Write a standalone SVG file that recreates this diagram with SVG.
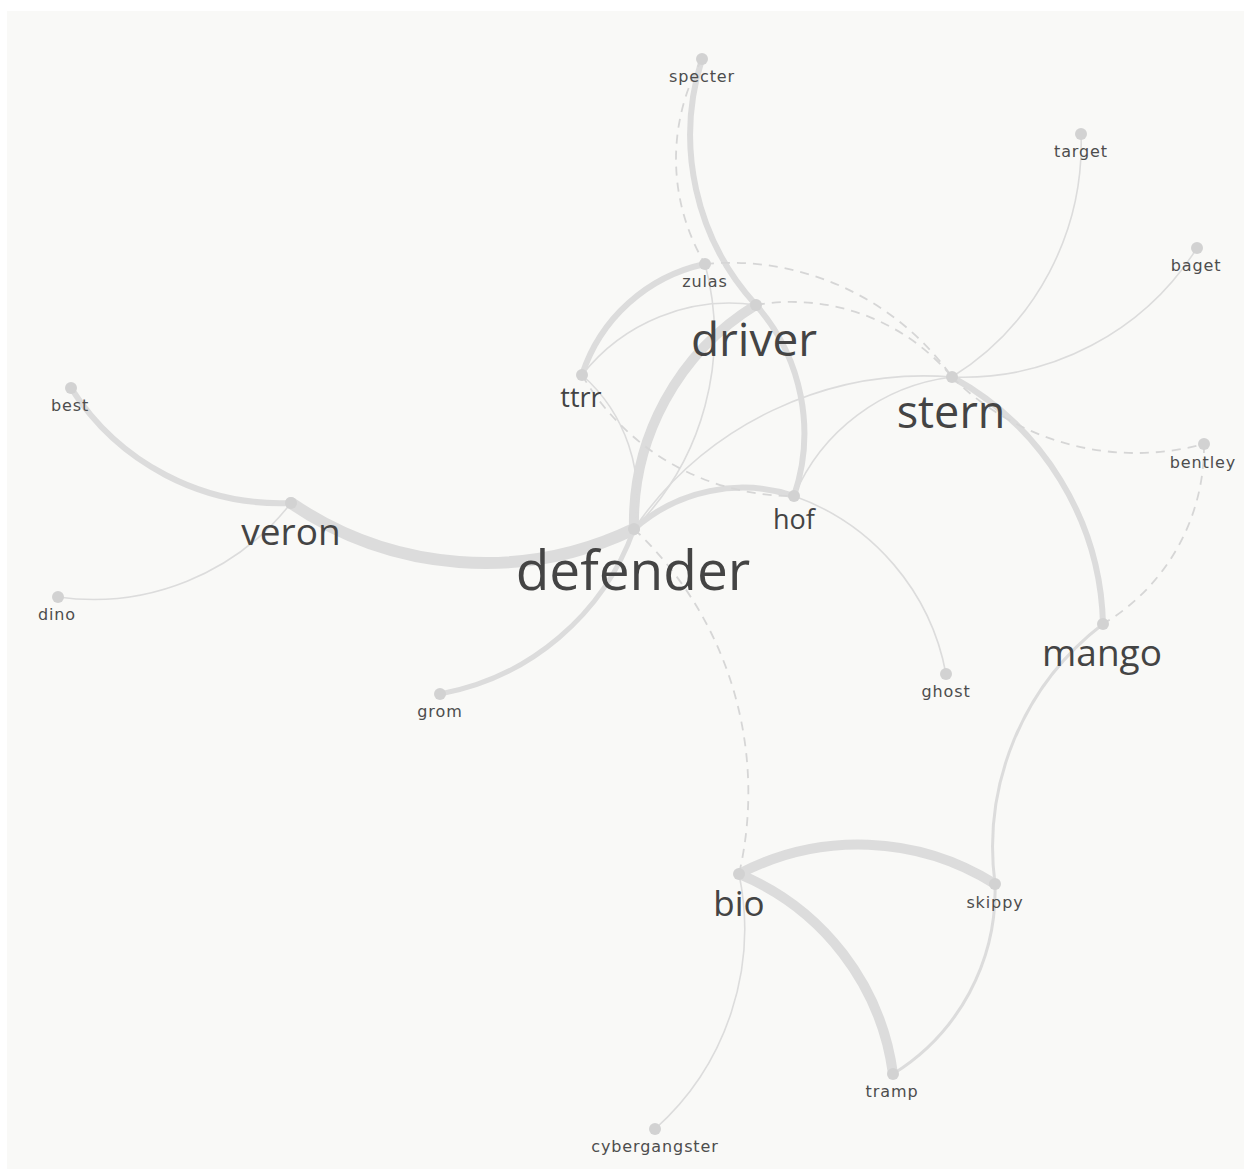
<svg xmlns="http://www.w3.org/2000/svg" width="1244" height="1169" viewBox="0 0 1244 1169">
<style>
.e{fill:none;stroke:#dcdcdc;stroke-linecap:round}
.t1{stroke-width:1.6}
.t3{stroke-width:3}
.t5{stroke-width:5}
.t6{stroke-width:6}
.t10{stroke-width:10}
.t12{stroke-width:12}
.d{stroke-width:1.8;stroke-dasharray:9 7;stroke:#d6d6d6;stroke-linecap:butt}
.n circle{fill:#d2d2d2}
.s{font-family:"DejaVu Sans",Verdana,sans-serif;font-size:16px;letter-spacing:0.9px;fill:#4d4d4d;text-anchor:middle}
.b{font-family:"Open Sans","Noto Sans",sans-serif;fill:#444;text-anchor:middle}
</style>
<rect x="0" y="0" width="1244" height="1169" fill="#ffffff"/>
<rect x="7" y="11" width="1237" height="1158" fill="#f9f9f7"/>
<g id="connectors">
<path class="e t12" d="M291 503 A344 344 0 0 0 634 529"/>
<path class="e t10" d="M756 305 A255.1 255.1 0 0 0 634 529"/>
<path class="e t10" d="M739 874 A256.2 256.2 0 0 1 995 884"/>
<path class="e t10" d="M739 874 A252.4 252.4 0 0 1 893 1074"/>
<path class="e t6" d="M702 59 A251.9 251.9 0 0 0 756 305"/>
<path class="e t6" d="M756 305 A194.7 194.7 0 0 1 794 496"/>
<path class="e t6" d="M582 375 A165.7 165.7 0 0 1 705 264"/>
<path class="e t6" d="M634 529 A163.4 163.4 0 0 1 794 496"/>
<path class="e t6" d="M952 377 A289.5 289.5 0 0 1 1103 624"/>
<path class="e t6" d="M71 388 A248.2 248.2 0 0 0 291 503"/>
<path class="e t5" d="M440 694 A254.7 254.7 0 0 0 634 529"/>
<path class="e t3" d="M1103 624 A281.5 281.5 0 0 0 995 884"/>
<path class="e t3" d="M995 884 A215.6 215.6 0 0 1 893 1074"/>
<path class="e t1" d="M582 375 A187.6 187.6 0 0 1 756 305"/>
<path class="e t1" d="M705 264 A274.3 274.3 0 0 1 634 529"/>
<path class="e t1" d="M582 375 A162.5 162.5 0 0 1 634 529"/>
<path class="e t1" d="M634 529 A352.5 352.5 0 0 1 952 377"/>
<path class="e t1" d="M794 496 A197.8 197.8 0 0 1 952 377"/>
<path class="e t1" d="M794 496 A234.1 234.1 0 0 1 946 674"/>
<path class="e t1" d="M952 377 A275.1 275.1 0 0 0 1081 134"/>
<path class="e t1" d="M952 377 A276.9 276.9 0 0 0 1197 248"/>
<path class="e t1" d="M739 874 A268.5 268.5 0 0 1 655 1129"/>
<path class="e t1" d="M58 597 A251.2 251.2 0 0 0 291 503"/>
<path class="e d" d="M702 59 A205 205 0 0 0 705 264"/>
<path class="e d" d="M582 375 A244.1 244.1 0 0 0 794 496"/>
<path class="e d" d="M705 264 A271.6 271.6 0 0 1 952 377"/>
<path class="e d" d="M756 305 A208.8 208.8 0 0 1 952 377"/>
<path class="e d" d="M952 377 A260.8 260.8 0 0 0 1204 444"/>
<path class="e d" d="M1204 444 A206.4 206.4 0 0 1 1103 624"/>
<path class="e d" d="M634 529 A360.6 360.6 0 0 1 739 874"/>
</g>
<g id="node-specter" class="n"><circle cx="702" cy="59" r="6"/><text class="s" x="702" y="82">specter</text></g>
<g id="node-target" class="n"><circle cx="1081" cy="134" r="6"/><text class="s" x="1081" y="157">target</text></g>
<g id="node-baget" class="n"><circle cx="1197" cy="248" r="6"/><text class="s" x="1196" y="271">baget</text></g>
<g id="node-zulas" class="n"><circle cx="705" cy="264" r="6"/><text class="s" x="705" y="287">zulas</text></g>
<g id="node-driver" class="n"><circle cx="756" cy="305" r="6"/><text class="b" x="754" y="356" font-size="46">driver</text></g>
<g id="node-ttrr" class="n"><circle cx="582" cy="375" r="6"/><text class="b" x="581" y="407" font-size="27">ttrr</text></g>
<g id="node-stern" class="n"><circle cx="952" cy="377" r="6"/><text class="b" x="951" y="428" font-size="45">stern</text></g>
<g id="node-best" class="n"><circle cx="71" cy="388" r="6"/><text class="s" x="70" y="411">best</text></g>
<g id="node-bentley" class="n"><circle cx="1204" cy="444" r="6"/><text class="s" x="1203" y="468">bentley</text></g>
<g id="node-veron" class="n"><circle cx="291" cy="503" r="6"/><text class="b" x="291" y="545" font-size="37">veron</text></g>
<g id="node-hof" class="n"><circle cx="794" cy="496" r="6"/><text class="b" x="794" y="529" font-size="27">hof</text></g>
<g id="node-defender" class="n"><circle cx="634" cy="529" r="6"/><text class="b" x="633" y="590" font-size="55">defender</text></g>
<g id="node-dino" class="n"><circle cx="58" cy="597" r="6"/><text class="s" x="57" y="620">dino</text></g>
<g id="node-mango" class="n"><circle cx="1103" cy="624" r="6"/><text class="b" x="1102" y="666" font-size="37">mango</text></g>
<g id="node-ghost" class="n"><circle cx="946" cy="674" r="6"/><text class="s" x="946" y="697">ghost</text></g>
<g id="node-grom" class="n"><circle cx="440" cy="694" r="6"/><text class="s" x="440" y="717">grom</text></g>
<g id="node-bio" class="n"><circle cx="739" cy="874" r="6"/><text class="b" x="739" y="916" font-size="35">bio</text></g>
<g id="node-skippy" class="n"><circle cx="995" cy="884" r="6"/><text class="s" x="995" y="908">skippy</text></g>
<g id="node-tramp" class="n"><circle cx="893" cy="1074" r="6"/><text class="s" x="892" y="1097">tramp</text></g>
<g id="node-cybergangster" class="n"><circle cx="655" cy="1129" r="6"/><text class="s" x="655" y="1152">cybergangster</text></g>
</svg>
